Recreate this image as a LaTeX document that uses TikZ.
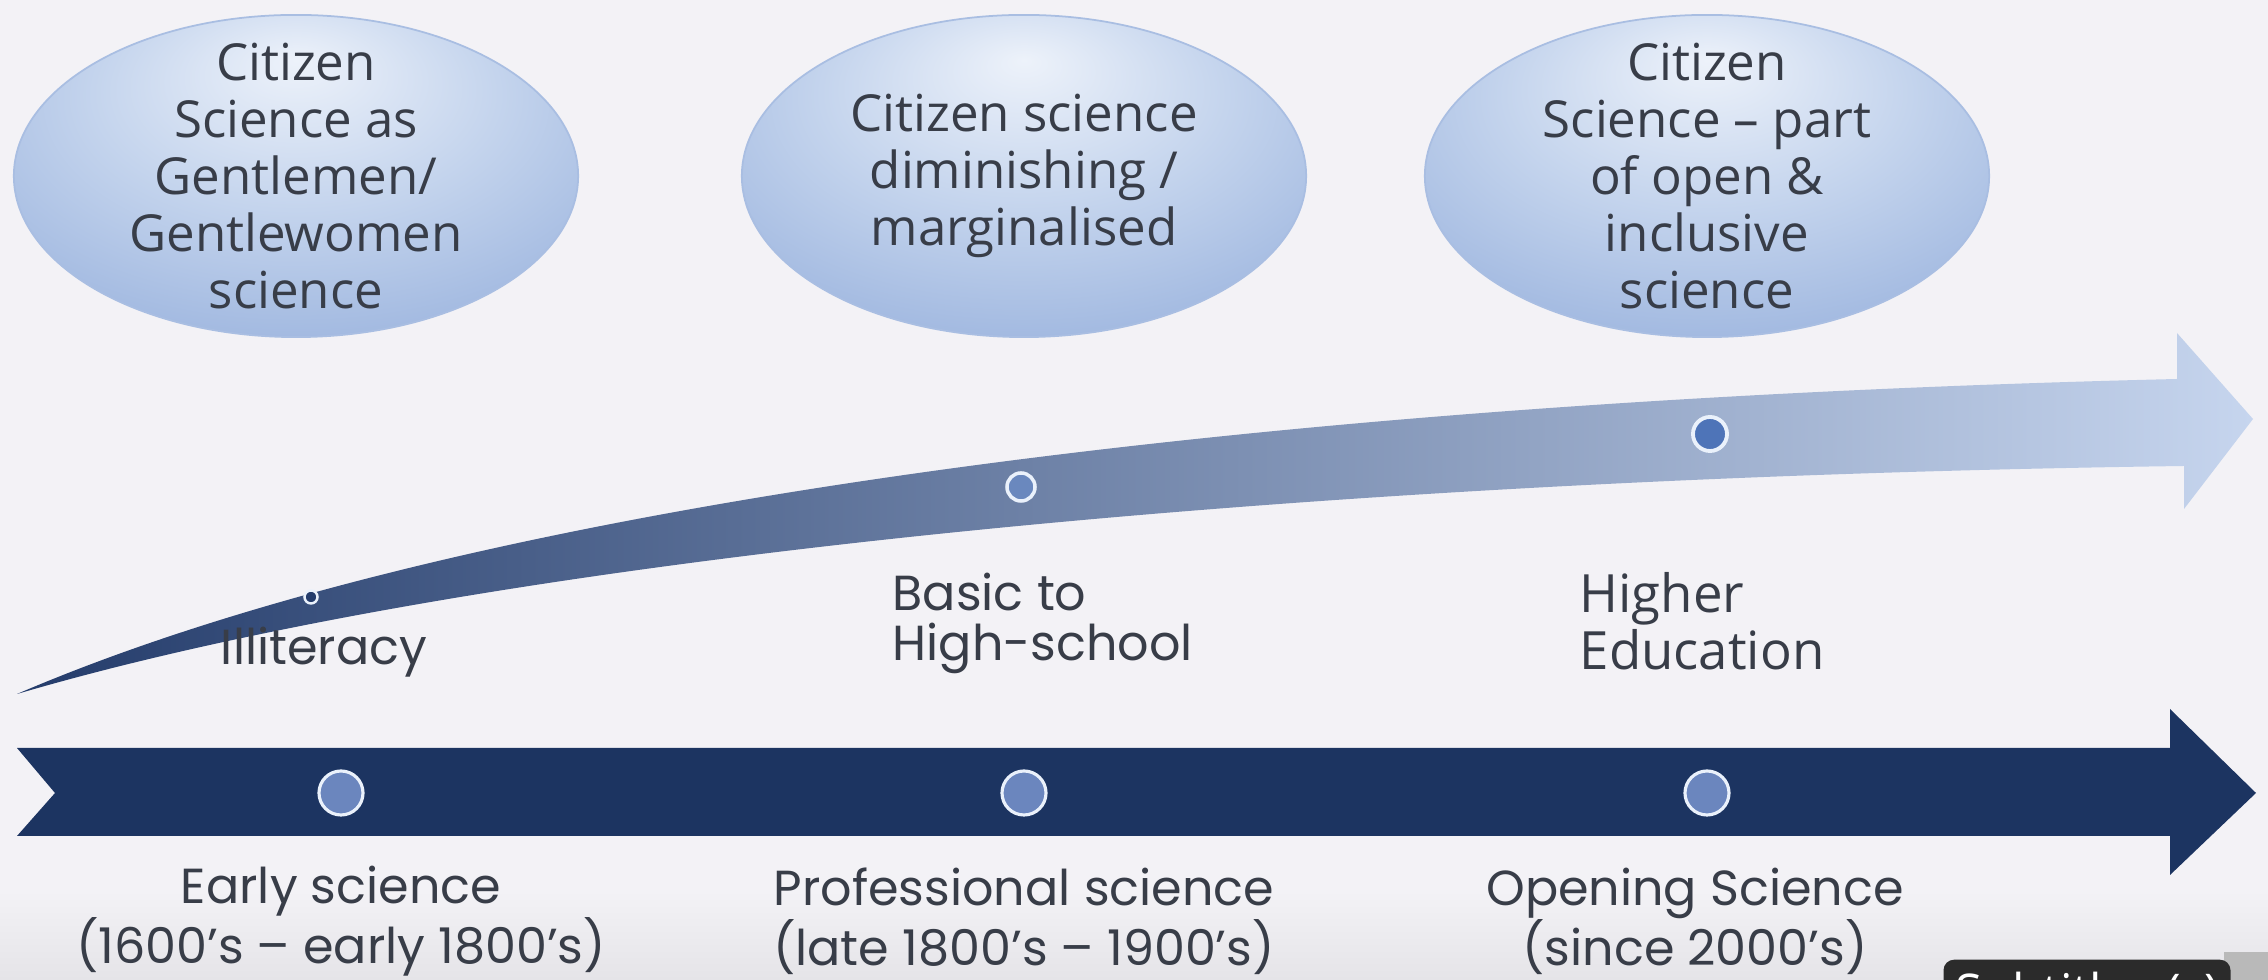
\documentclass[tikz,border=0pt]{standalone}
\usepackage{fontspec}
\setmainfont{Open Sans}
\newfontfamily\geofont[Ligatures=TeX]{Poppins}
\usetikzlibrary{shapes.geometric}
\usetikzlibrary{positioning}

\definecolor{paper}{HTML}{F3F2F6}
\definecolor{paperlow}{HTML}{E5E4E8}
\definecolor{ink}{HTML}{383D48}
\definecolor{navy}{HTML}{1C3461}
\definecolor{risedark}{HTML}{243C6B}
\definecolor{risemid}{HTML}{6A88BE}
\definecolor{riselight}{HTML}{C6D5EE}
\definecolor{dotblue}{HTML}{6B86BE}
\definecolor{dotbright}{HTML}{4E74B8}
\definecolor{ring}{HTML}{EAF1FB}
\definecolor{bubbletop}{HTML}{EDF2FA}
\definecolor{bubblemid}{HTML}{C4D4ED}
\definecolor{bubbleedge}{HTML}{90ABDA}
\definecolor{bubblelow}{HTML}{7A99CF}
\definecolor{bubbleline}{HTML}{A9BEE2}
\definecolor{playerbox}{HTML}{2B2B2B}

\pgfdeclareradialshading{bubble}{\pgfpoint{0bp}{18bp}}{%
  color(0bp)=(bubbletop); color(18bp)=(bubblemid);
  color(42bp)=(bubbleedge); color(62bp)=(bubblelow)}

\tikzset{
  bubble/.style={ellipse, shading=bubble, draw=bubbleline, line width=0.5pt,
    minimum width=5.64cm, minimum height=3.22cm, inner sep=0pt},
  bubbletext/.style={inner sep=0pt, align=center, text=ink,
    font=\fontsize{14.5}{16.2}\selectfont},
  stage/.style={inner sep=0pt, align=left, text=ink,
    font=\geofont\fontsize{14}{14.2}\selectfont},
  era/.style={inner sep=0pt, align=center, text=ink,
    font=\geofont\fontsize{14}{17}\selectfont},
  milestone/.style={circle, draw=ring, fill=#1, inner sep=0pt},
}

\begin{document}
\begin{tikzpicture}[x=0.01cm, y=-0.01cm]
\useasboundingbox (0,0) rectangle (2268,980);
\fill[paper] (0,0) rectangle (2268,980);
\shade[top color=paper, bottom color=paperlow] (0,890) rectangle (2268,980);

% citizen science bubbles
\node[bubble, label={[bubbletext]center:{Citizen\\Science as\\Gentlemen/\\Gentlewomen\\science}}]
  (gentle) at (296,176) {};
\node[bubble, label={[bubbletext]center:{Citizen science\\diminishing /\\marginalised}}]
  (margin) at (1024,176) {};
\node[bubble, label={[bubbletext]center:{Citizen\\Science – part\\of open \&\\inclusive\\science}}]
  (open) at (1707,176) {};

% rising education arrow
\shade[left color=risedark, middle color=risemid, right color=riselight]
  (17,694) .. controls (480,495) and (1300,400) .. (2177,379)
  -- (2177,333) -- (2253,419) -- (2184,509) -- (2184,466)
  .. controls (1300,478) and (480,558) .. (17,694) -- cycle;

\node[milestone=risedark, minimum size=0.13cm, line width=0.7pt] (lit) at (311,597) {};
\node[milestone=risemid, minimum size=0.28cm, line width=1pt] (school) at (1021,487) {};
\node[milestone=dotbright, minimum size=0.34cm, line width=1.1pt] (uni) at (1710,434) {};

\node[stage, anchor=center] (illit) at (324,652) {Illiteracy};
\node[stage, anchor=north west] (basic) at (892,572) {Basic to\\High-school};
\node[stage, anchor=north west, font=\fontsize{15}{14.2}\selectfont] (higher) at (1579,572) {Higher\\Education};

% timeline
\fill[navy] (17,748) -- (2170,748) -- (2170,709) -- (2256,793)
  -- (2170,875) -- (2170,836) -- (17,836) -- (55,793) -- cycle;

\node[milestone=dotblue, minimum size=0.44cm, line width=0.9pt] (d1) at (341,793) {};
\node[milestone=dotblue, minimum size=0.44cm, line width=0.9pt] (d2) at (1024,793) {};
\node[milestone=dotblue, minimum size=0.44cm, line width=0.9pt] (d3) at (1707,793) {};

\node[era] (early) at (d1 |- 0,921) {Early science\\(1600’s – early 1800’s)};
\node[era] (prof)  at (d2 |- 0,921) {Professional science\\(late 1800’s – 1900’s)};
\node[era] (opening) at (1695,921) {Opening Science\\(since 2000’s)};

% player overlay, cut by the frame
\begin{scope}
\clip (0,0) rectangle (2268,980);
\fill[gray!55] (2224,952) rectangle (2268,980);
\node[fill=playerbox, rounded corners=3pt, minimum width=2.85cm, minimum height=0.7cm,
  anchor=north, text=white, font=\fontsize{14}{14}\selectfont] (subs) at (2087,959)
  {Subtitles (c)};
\end{scope}
\end{tikzpicture}
\end{document}
